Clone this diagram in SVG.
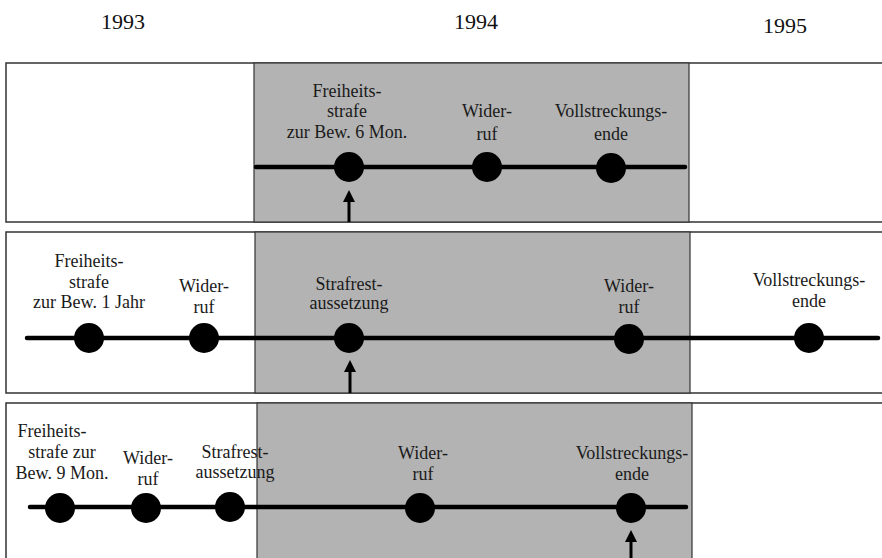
<svg xmlns="http://www.w3.org/2000/svg" width="882" height="558" viewBox="0 0 882 558">
<style>
.bg{fill:#ffffff;stroke:#333333;stroke-width:1.5}
.sh{fill:#b3b3b3;stroke:#333333;stroke-width:1.2}
.tl{stroke:#000000;stroke-width:4.5;stroke-linecap:round;fill:none}
.ar{stroke:#000000;stroke-width:3;fill:none}
.dot{fill:#000000}
text{font-family:"Liberation Serif","Times New Roman",serif;font-size:18px;fill:#1a1a1a;text-anchor:middle}
.yr{font-size:22px;fill:#111111}
</style>
<rect width="882" height="558" fill="#ffffff"/>
<g id="years">
<text class="yr" x="123" y="29">1993</text>
<text class="yr" x="476" y="29">1994</text>
<text class="yr" x="785" y="33">1995</text>
</g>
<g id="panel1">
<rect class="bg" x="6" y="63" width="880" height="159"/>
<rect class="sh" x="254" y="63" width="435" height="159"/>
</g>
<g id="panel2">
<rect class="bg" x="6" y="232" width="880" height="161"/>
<rect class="sh" x="255" y="232" width="435" height="161"/>
</g>
<g id="panel3">
<rect class="bg" x="6" y="403" width="880" height="160"/>
<rect class="sh" x="257" y="403" width="435" height="160"/>
</g>
<g id="connectors">
<line class="tl" x1="256" y1="167" x2="685" y2="167"/>
<line class="tl" x1="27" y1="338" x2="878" y2="338"/>
<line class="tl" x1="30" y1="507" x2="686" y2="507"/>
<line class="ar" x1="349" y1="222" x2="349" y2="196"/>
<path d="M349,190 L355,202 L343,202 Z" fill="#000000"/>
<line class="ar" x1="350" y1="393" x2="350" y2="366"/>
<path d="M350,360 L356,372 L344,372 Z" fill="#000000"/>
<line class="ar" x1="631" y1="558" x2="631" y2="536"/>
<path d="M631,530 L637,542 L625,542 Z" fill="#000000"/>
</g>
<g id="p1-freiheitsstrafe">
<circle class="dot" cx="349" cy="167" r="15"/>
<text x="347" y="97">Freiheits-</text>
<text x="347" y="117">strafe</text>
<text x="347" y="138">zur Bew. 6 Mon.</text>
</g>
<g id="p1-widerruf">
<circle class="dot" cx="487" cy="167" r="15"/>
<text x="487" y="117">Wider-</text>
<text x="487" y="140">ruf</text>
</g>
<g id="p1-vollstreckungsende">
<circle class="dot" cx="611" cy="168" r="15"/>
<text x="611" y="117">Vollstreckungs-</text>
<text x="611" y="140">ende</text>
</g>
<g id="p2-freiheitsstrafe">
<circle class="dot" cx="89" cy="338" r="15"/>
<text x="89" y="267">Freiheits-</text>
<text x="89" y="288">strafe</text>
<text x="89" y="308">zur Bew. 1 Jahr</text>
</g>
<g id="p2-widerruf1">
<circle class="dot" cx="204" cy="338" r="15"/>
<text x="204" y="292">Wider-</text>
<text x="204" y="313">ruf</text>
</g>
<g id="p2-strafrestaussetzung">
<circle class="dot" cx="349" cy="338" r="15"/>
<text x="349" y="290">Strafrest-</text>
<text x="349" y="309">aussetzung</text>
</g>
<g id="p2-widerruf2">
<circle class="dot" cx="629" cy="339" r="15"/>
<text x="629" y="292">Wider-</text>
<text x="629" y="313">ruf</text>
</g>
<g id="p2-vollstreckungsende">
<circle class="dot" cx="809" cy="338" r="15"/>
<text x="809" y="286">Vollstreckungs-</text>
<text x="809" y="307">ende</text>
</g>
<g id="p3-freiheitsstrafe">
<circle class="dot" cx="60" cy="508" r="15"/>
<text x="52" y="437">Freiheits-</text>
<text x="62" y="458">strafe zur</text>
<text x="62" y="479">Bew. 9 Mon.</text>
</g>
<g id="p3-widerruf1">
<circle class="dot" cx="146" cy="508" r="15"/>
<text x="148" y="464">Wider-</text>
<text x="148" y="485">ruf</text>
</g>
<g id="p3-strafrestaussetzung">
<circle class="dot" cx="230" cy="507" r="15"/>
<text x="235" y="458">Strafrest-</text>
<text x="235" y="478">aussetzung</text>
</g>
<g id="p3-widerruf2">
<circle class="dot" cx="420" cy="508" r="15"/>
<text x="423" y="459">Wider-</text>
<text x="423" y="480">ruf</text>
</g>
<g id="p3-vollstreckungsende">
<circle class="dot" cx="631" cy="508" r="15"/>
<text x="632" y="459">Vollstreckungs-</text>
<text x="632" y="480">ende</text>
</g>
</svg>
